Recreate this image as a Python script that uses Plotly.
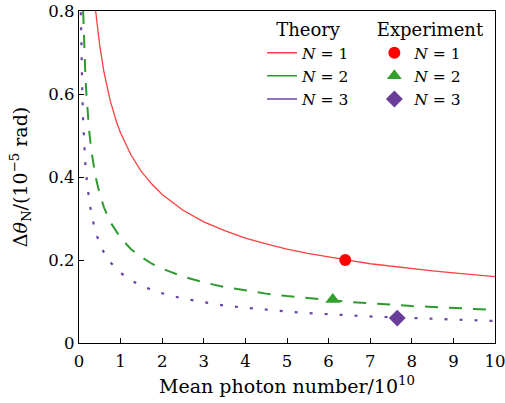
import plotly.graph_objects as go

# Theory curves: phase uncertainty vs mean photon number (units of 1e10)
x_n1 = [0.40, 0.45, 0.50, 0.60, 0.75, 0.90, 1.0, 1.25, 1.5, 1.75, 2.0, 2.5, 3.0, 3.5, 4.0,
        4.5, 5.0, 5.5, 6.0, 6.5, 7.0, 7.5, 8.0, 8.5, 9.0, 9.5, 10.0]
y_n1 = [0.800, 0.754, 0.716, 0.653, 0.584, 0.533, 0.506, 0.453, 0.413, 0.383, 0.358, 0.320,
        0.292, 0.271, 0.253, 0.239, 0.226, 0.216, 0.207, 0.199, 0.191, 0.185, 0.179, 0.174,
        0.169, 0.164, 0.160]

x_n2 = [0.10, 0.12, 0.15, 0.18, 0.20, 0.25, 0.30, 0.40, 0.50, 0.60, 0.75, 0.90, 1.0, 1.25,
        1.5, 1.75, 2.0, 2.5, 3.0, 3.5, 4.0, 4.5, 5.0, 5.5, 6.0, 6.5, 7.0, 7.5, 8.0, 8.5,
        9.0, 9.5, 10.0]
y_n2 = [0.800, 0.730, 0.653, 0.596, 0.566, 0.506, 0.462, 0.400, 0.358, 0.327, 0.292, 0.267,
        0.253, 0.226, 0.207, 0.191, 0.179, 0.160, 0.146, 0.135, 0.127, 0.119, 0.113, 0.108,
        0.103, 0.099, 0.096, 0.092, 0.089, 0.087, 0.084, 0.082, 0.080]

x_n3 = [0.045, 0.05, 0.06, 0.07, 0.08, 0.10, 0.12, 0.15, 0.20, 0.25, 0.30, 0.40, 0.50, 0.60,
        0.75, 0.90, 1.0, 1.25, 1.5, 1.75, 2.0, 2.5, 3.0, 3.5, 4.0, 4.5, 5.0, 5.5, 6.0, 6.5,
        7.0, 7.5, 8.0, 8.5, 9.0, 9.5, 10.0]
y_n3 = [0.797, 0.756, 0.690, 0.639, 0.598, 0.534, 0.488, 0.436, 0.378, 0.338, 0.309, 0.267,
        0.239, 0.218, 0.195, 0.178, 0.169, 0.151, 0.138, 0.128, 0.120, 0.107, 0.098, 0.090,
        0.085, 0.080, 0.076, 0.072, 0.069, 0.066, 0.064, 0.062, 0.060, 0.058, 0.056, 0.055,
        0.053]

# Measured points
exp_x = [6.4, 6.1, 7.65]
exp_y = [0.200, 0.105, 0.060]

labels = ["<i>N</i> = 1", "<i>N</i> = 2", "<i>N</i> = 3"]
line_colors = ["#ff4040", "#2f9a2f", "#6a45a8"]
marker_colors = ["#ff0000", "#32a02c", "#6a3d9a"]
marker_symbols = ["circle", "triangle-up", "diamond"]
marker_sizes = [12, 13, 13]

x_ticks = list(range(0, 11))
y_ticks = [0, 0.2, 0.4, 0.6, 0.8]
y_tick_text = ["0", "0.2", "0.4", "0.6", "0.8"]

FONT = "DejaVu Serif"
FS = 16.5
TITLE_FS = 19
LEGEND_FS = 15.5

fig = go.Figure()

theory = [(x_n1, y_n1, "solid", 1.3), (x_n2, y_n2, "13px,11px", 2.0), (x_n3, y_n3, "3px,12px", 2.2)]
for (xs, ys, dash, w), col in zip(theory, line_colors):
    fig.add_trace(go.Scatter(x=xs, y=ys, mode="lines", line=dict(color=col, width=w, dash=dash),
                             showlegend=False, hoverinfo="skip"))

# legend entries for the theory column (solid samples)
for lab, col in zip(labels, line_colors):
    fig.add_trace(go.Scatter(x=[None], y=[None], mode="lines", name=lab,
                             line=dict(color=col, width=1.5), legend="legend"))

for i in range(3):
    fig.add_trace(go.Scatter(x=[exp_x[i]], y=[exp_y[i]], mode="markers", name=labels[i],
                             marker=dict(color=marker_colors[i], symbol=marker_symbols[i],
                                         size=marker_sizes[i], line=dict(width=0)),
                             legend="legend2"))

axis_common = dict(showline=True, mirror=True, linecolor="black", linewidth=1.3,
                   ticks="inside", ticklen=5, tickwidth=1.2, tickcolor="black",
                   showgrid=False, zeroline=False, automargin=False,
                   ticklabeloverflow="allow",
                   tickfont=dict(family=FONT, size=FS, color="black"))

fig.update_xaxes(range=[0, 10], tickvals=x_ticks, ticklabelstandoff=3,
                 title=dict(text="Mean photon number/10<sup>10</sup>",
                            font=dict(family=FONT, size=TITLE_FS, color="black"), standoff=9),
                 **axis_common)
fig.update_yaxes(range=[0, 0.8], tickvals=y_ticks, ticktext=y_tick_text,
                 title=dict(text="Δ<i>θ</i><sub>N</sub>/(10<sup>−5</sup> rad)",
                            font=dict(family=FONT, size=TITLE_FS, color="black"), standoff=15),
                 **axis_common)

legend_font = dict(family=FONT, size=LEGEND_FS, color="black")
legend_title_font = dict(family=FONT, size=18, color="black")
fig.update_layout(
    width=505, height=403,
    margin=dict(l=79, r=10, t=11, b=60),
    paper_bgcolor="white", plot_bgcolor="white",
    font=dict(family=FONT, size=FS, color="black"),
    legend=dict(x=0.44, y=0.995, xanchor="left", yanchor="top", bgcolor="rgba(0,0,0,0)",
                title=dict(text="Theory", side="top center", font=legend_title_font),
                font=legend_font, tracegroupgap=0, itemwidth=30),
    legend2=dict(x=0.71, y=0.995, xanchor="left", yanchor="top", bgcolor="rgba(0,0,0,0)",
                 title=dict(text="Experiment", side="top center", font=legend_title_font),
                 font=legend_font, tracegroupgap=0, itemwidth=30),
)

fig.write_html("out.html")
